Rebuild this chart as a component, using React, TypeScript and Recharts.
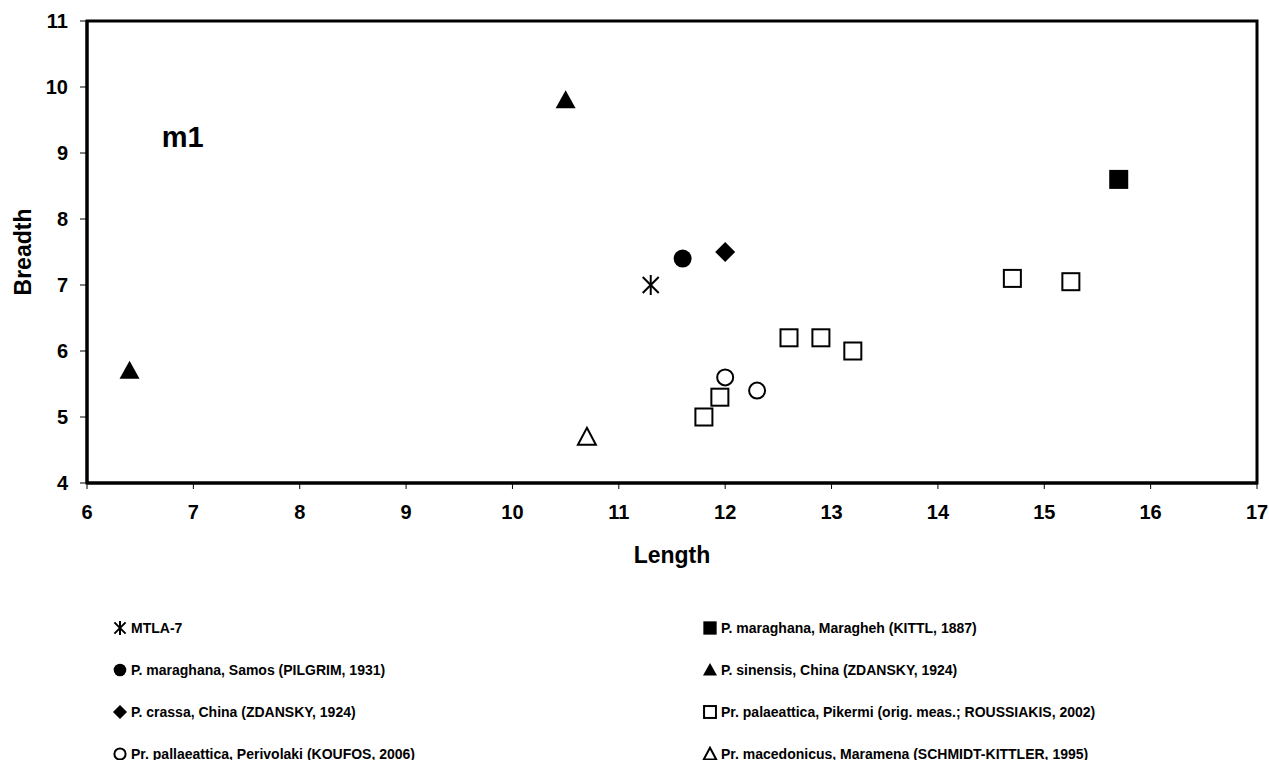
import { ReferenceArea, ReferenceDot, Scatter, ScatterChart, XAxis, YAxis } from 'recharts';

const FONT = '"Liberation Sans", Arial, sans-serif';

// length / breadth per group
const mtlaLength = [11.3];
const mtlaBreadth = [7.0];
const samosLength = [11.6];
const samosBreadth = [7.4];
const crassaLength = [12.0];
const crassaBreadth = [7.5];
const perivolakiLength = [12.0, 12.3];
const perivolakiBreadth = [5.6, 5.4];
const maraghehLength = [15.7];
const maraghehBreadth = [8.6];
const sinensisLength = [10.5, 6.4];
const sinensisBreadth = [9.8, 5.7];
const pikermiLength = [11.8, 11.95, 12.6, 12.9, 13.2, 14.7, 15.25];
const pikermiBreadth = [5.0, 5.3, 6.2, 6.2, 6.0, 7.1, 7.05];
const maramenaLength = [10.7];
const maramenaBreadth = [4.7];

const xTicks = [6, 7, 8, 9, 10, 11, 12, 13, 14, 15, 16, 17];
const yTicks = [4, 5, 6, 7, 8, 9, 10, 11];

const toPoints = (xs: number[], ys: number[]) => xs.map((x, i) => ({ x, y: ys[i] }));

type MarkerKind = 'star' | 'circle' | 'diamond' | 'openCircle' | 'square' | 'triangle' | 'openSquare' | 'openTriangle';

const drawMarker = (kind: MarkerKind, cx: number, cy: number, s = 1) => {
  switch (kind) {
    case 'star':
      return (
        <g stroke="#000" strokeWidth={2}>
          <line x1={cx - 8 * s} y1={cy - 8 * s} x2={cx + 8 * s} y2={cy + 8 * s} />
          <line x1={cx - 8 * s} y1={cy + 8 * s} x2={cx + 8 * s} y2={cy - 8 * s} />
          <line x1={cx} y1={cy - 10 * s} x2={cx} y2={cy + 10 * s} />
        </g>
      );
    case 'circle':
      return <circle cx={cx} cy={cy} r={9 * s} fill="#000" />;
    case 'openCircle':
      return <circle cx={cx} cy={cy} r={8 * s} fill="#fff" stroke="#000" strokeWidth={2} />;
    case 'diamond':
      return <polygon points={`${cx},${cy - 10 * s} ${cx + 10 * s},${cy} ${cx},${cy + 10 * s} ${cx - 10 * s},${cy}`} fill="#000" />;
    case 'square':
      return <rect x={cx - 9.5 * s} y={cy - 9.5 * s} width={19 * s} height={19 * s} fill="#000" />;
    case 'openSquare':
      return <rect x={cx - 8.5 * s} y={cy - 8.5 * s} width={17 * s} height={17 * s} fill="#fff" stroke="#000" strokeWidth={2} />;
    case 'triangle':
      return <polygon points={`${cx},${cy - 10 * s} ${cx + 10 * s},${cy + 8 * s} ${cx - 10 * s},${cy + 8 * s}`} fill="#000" />;
    case 'openTriangle':
      return (
        <polygon
          points={`${cx},${cy - 9 * s} ${cx + 9 * s},${cy + 8 * s} ${cx - 9 * s},${cy + 8 * s}`}
          fill="#fff"
          stroke="#000"
          strokeWidth={2}
        />
      );
  }
};

const series: { name: string; kind: MarkerKind; data: { x: number; y: number }[] }[] = [
  { name: 'MTLA-7', kind: 'star', data: toPoints(mtlaLength, mtlaBreadth) },
  { name: 'P. maraghana, Samos (PILGRIM, 1931)', kind: 'circle', data: toPoints(samosLength, samosBreadth) },
  { name: 'P. crassa, China (ZDANSKY, 1924)', kind: 'diamond', data: toPoints(crassaLength, crassaBreadth) },
  { name: 'Pr. pallaeattica, Perivolaki (KOUFOS, 2006)', kind: 'openCircle', data: toPoints(perivolakiLength, perivolakiBreadth) },
  { name: 'P. maraghana, Maragheh (KITTL, 1887)', kind: 'square', data: toPoints(maraghehLength, maraghehBreadth) },
  { name: 'P. sinensis, China (ZDANSKY, 1924)', kind: 'triangle', data: toPoints(sinensisLength, sinensisBreadth) },
  { name: 'Pr. palaeattica, Pikermi (orig. meas.; ROUSSIAKIS, 2002)', kind: 'openSquare', data: toPoints(pikermiLength, pikermiBreadth) },
  { name: 'Pr. macedonicus, Maramena (SCHMIDT-KITTLER, 1995)', kind: 'openTriangle', data: toPoints(maramenaLength, maramenaBreadth) },
];

const tickStyle = { fontSize: 20, fontWeight: 700, fill: '#000', fontFamily: FONT };

const LegendItem = ({ name, kind }: { name: string; kind: MarkerKind }) => (
  <div style={{ display: 'flex', alignItems: 'center', height: 42 }}>
    <svg width={16} height={16} style={{ marginRight: 3 }}>
      {drawMarker(kind, 8, 8, 0.7)}
    </svg>
    <span>{name}</span>
  </div>
);

export default function App() {
  return (
    <div style={{ position: 'absolute', left: 0, top: 0, width: 1269, height: 760, background: '#fff', fontFamily: FONT }}>
      <ScatterChart width={1269} height={590} margin={{ top: 21, right: 12, bottom: 0, left: 0 }}>
        <XAxis
          type="number"
          dataKey="x"
          domain={[6, 17]}
          ticks={xTicks}
          allowDataOverflow
          height={107}
          tick={tickStyle}
          tickSize={6}
          tickMargin={16}
          axisLine={{ stroke: '#000', strokeWidth: 3 }}
          tickLine={{ stroke: '#000' }}
          label={{ value: 'Length', position: 'insideBottom', offset: 27, style: { fontSize: 23, fontWeight: 700, fill: '#000', fontFamily: FONT } }}
        />
        <YAxis
          type="number"
          dataKey="y"
          domain={[4, 11]}
          ticks={yTicks}
          allowDataOverflow
          width={87}
          tick={tickStyle}
          tickSize={7}
          tickMargin={12}
          axisLine={{ stroke: '#000', strokeWidth: 3 }}
          tickLine={{ stroke: '#000' }}
          label={{
            value: 'Breadth',
            angle: -90,
            position: 'insideLeft',
            offset: 23,
            style: { fontSize: 23, fontWeight: 700, fill: '#000', fontFamily: FONT, textAnchor: 'middle' },
          }}
        />
        <ReferenceArea x1={6} x2={17} y1={4} y2={11} fill="none" stroke="#000" strokeWidth={3} />
        <ReferenceDot
          x={6.9}
          y={9.25}
          r={0}
          fill="none"
          stroke="none"
          label={{ value: 'm1', position: 'center', style: { fontSize: 29, fontWeight: 700, fill: '#000', fontFamily: FONT } }}
        />
        {series.map((s) => (
          <Scatter
            key={s.name}
            name={s.name}
            data={s.data}
            isAnimationActive={false}
            shape={(p: any) => drawMarker(s.kind, p.cx, p.cy)}
          />
        ))}
      </ScatterChart>
      <div style={{ position: 'absolute', left: 112, top: 607, fontSize: 14, fontWeight: 700 }}>
        {series.slice(0, 4).map((s) => (
          <LegendItem key={s.name} name={s.name} kind={s.kind} />
        ))}
      </div>
      <div style={{ position: 'absolute', left: 702, top: 607, fontSize: 14, fontWeight: 700 }}>
        {series.slice(4).map((s) => (
          <LegendItem key={s.name} name={s.name} kind={s.kind} />
        ))}
      </div>
    </div>
  );
}
